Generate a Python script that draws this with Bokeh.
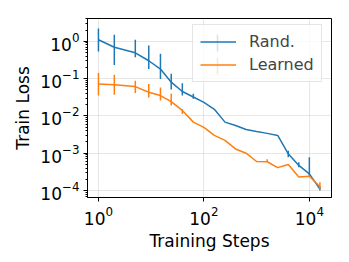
import math
from bokeh.plotting import figure
from bokeh.models import FixedTicker, Legend, LegendItem
from bokeh.embed import file_html
from bokeh.resources import INLINE

steps = [1, 2, 5, 9, 15, 24, 39, 63, 100, 158, 251, 398, 631, 1000, 1585, 2512, 3981, 6310, 10000, 15849]

rand_mean = [1.1, 0.69, 0.49, 0.30, 0.18, 0.080, 0.045, 0.032, 0.023, 0.015, 0.0068, 0.0055,
             0.0043, 0.0038, 0.0034, 0.0030, 0.00096, 0.00047, 0.00028, 0.00011]
rand_lo = [0.53, 0.23, 0.37, 0.18, 0.098, 0.051, 0.035, 0.029, 0.023, 0.015, 0.0068, 0.0055,
           0.0043, 0.0038, 0.0034, 0.0030, 0.00078, 0.00042, 0.00025, 0.00010]
rand_hi = [2.2, 1.5, 1.1, 0.77, 0.46, 0.135, 0.075, 0.039, 0.023, 0.015, 0.0068, 0.0055,
           0.0043, 0.0038, 0.0034, 0.0030, 0.00117, 0.00057, 0.00078, 0.00013]

learn_mean = [0.072, 0.068, 0.061, 0.043, 0.035, 0.024, 0.014, 0.0068, 0.0049, 0.0030, 0.0022, 0.0013,
              0.0010, 0.00060, 0.00059, 0.00041, 0.00050, 0.00023, 0.00024, 0.000126]
learn_lo = [0.035, 0.037, 0.041, 0.031, 0.026, 0.019, 0.0113, 0.0068, 0.0049, 0.0030, 0.0022, 0.0013,
            0.0010, 0.00060, 0.00059, 0.00041, 0.00050, 0.00023, 0.00024, 0.000110]
learn_hi = [0.14, 0.126, 0.088, 0.072, 0.058, 0.039, 0.0153, 0.0068, 0.0049, 0.0030, 0.0022, 0.0013,
            0.0010, 0.00060, 0.00069, 0.00041, 0.00050, 0.00023, 0.00024, 0.000166]

series_labels = ["Rand.", "Learned"]
x_ticks = [1, 100, 10000]
y_ticks = [1e-4, 1e-3, 1e-2, 1e-1, 1]

BLUE = "#1f77b4"
ORANGE = "#ff7f0e"
FONT = "DejaVu Sans"

X0, X1 = 0.62, 26300
Y0, Y1 = 6.5e-5, 4.07
W, H = 341, 254
BL, BR, BT, BB = 87, 10, 18, 57
FW, FH = W - BL - BR, H - BT - BB

p = figure(width=W, height=H, x_axis_type="log", y_axis_type="log",
           x_range=(X0, X1), y_range=(Y0, Y1),
           output_backend="svg", toolbar_location=None,
           min_border_left=BL, min_border_right=BR, min_border_top=BT, min_border_bottom=BB)

p.xaxis.ticker = FixedTicker(ticks=x_ticks, minor_ticks=[])
minor_y = [m * d for d in [1e-5, 1e-4, 1e-3, 1e-2, 1e-1, 1] for m in range(2, 10)]
p.yaxis.ticker = FixedTicker(ticks=y_ticks, minor_ticks=minor_y)

for ax in (p.xaxis[0], p.yaxis[0]):
    ax.major_tick_in = 0
    ax.minor_tick_in = 0
    ax.major_tick_out = 4
    ax.minor_tick_out = 2
    ax.axis_line_color = "black"
    ax.major_tick_line_color = "black"
    ax.minor_tick_line_color = "black"
    ax.major_label_text_font = FONT
    ax.major_label_text_font_size = "17px"
    ax.major_label_text_color = "black"
    ax.axis_label_text_font = FONT
    ax.axis_label_text_font_size = "17px"
    ax.axis_label_text_font_style = "normal"
    ax.axis_label_text_color = "black"

p.xaxis.axis_label = "Training Steps"
p.yaxis.axis_label = "Train Loss"
p.xaxis.major_label_standoff = 4
p.yaxis.major_label_standoff = 4
p.xaxis.axis_label_standoff = 3
p.yaxis.axis_label_standoff = 4

p.xgrid.grid_line_color = "#b0b0b0"
p.ygrid.grid_line_color = "#b0b0b0"
p.xgrid.grid_line_alpha = 0.3
p.ygrid.grid_line_alpha = 0.3
p.outline_line_color = "black"
p.outline_line_alpha = 1
p.outline_line_width = 1

l1 = p.line(steps, rand_mean, line_color=BLUE, line_width=1.5)
p.segment(x0=steps, y0=rand_lo, x1=steps, y1=rand_hi, line_color=BLUE, line_width=1.5)
l2 = p.line(steps, learn_mean, line_color=ORANGE, line_width=1.5)
p.segment(x0=steps, y0=learn_lo, x1=steps, y1=learn_hi, line_color=ORANGE, line_width=1.5)

# legend box: bottom-left at (LX, LY) px from frame bottom-left
PAD, GW, GH, SP = 7, 36, 19, 4
LX, LY = 105, 115
legend = Legend(items=[LegendItem(label=series_labels[0], renderers=[l1]),
                       LegendItem(label=series_labels[1], renderers=[l2])],
                location=(LX, LY), padding=PAD, spacing=SP,
                glyph_width=GW, glyph_height=GH, label_height=GH, label_standoff=13,
                label_text_font=FONT, label_text_font_size="16px",
                border_line_color="#cccccc", border_line_width=1,
                background_fill_alpha=0.8)
p.add_layout(legend)

# vertical error-bar stroke inside each legend glyph (matplotlib errorbar legend look)
def px_to_x(px):
    lx0, lx1 = math.log10(X0), math.log10(X1)
    return 10 ** (lx0 + px / FW * (lx1 - lx0))

def py_to_y(py_from_top):
    ly0, ly1 = math.log10(Y0), math.log10(Y1)
    return 10 ** (ly1 - py_from_top / FH * (ly1 - ly0))

leg_h = 2 * PAD + 2 * GH + SP
leg_top = FH - LY - leg_h
gx = px_to_x(LX + PAD + GW / 2)
for i, col in enumerate([BLUE, ORANGE]):
    cy = leg_top + PAD + GH / 2 + i * (GH + SP)
    r = p.segment(x0=[gx], y0=[py_to_y(cy + 8.5)], x1=[gx], y1=[py_to_y(cy - 8.5)],
                  line_color=col, line_width=1.5)
    r.level = "overlay"

open("out.html", "w").write(file_html(p, INLINE))
